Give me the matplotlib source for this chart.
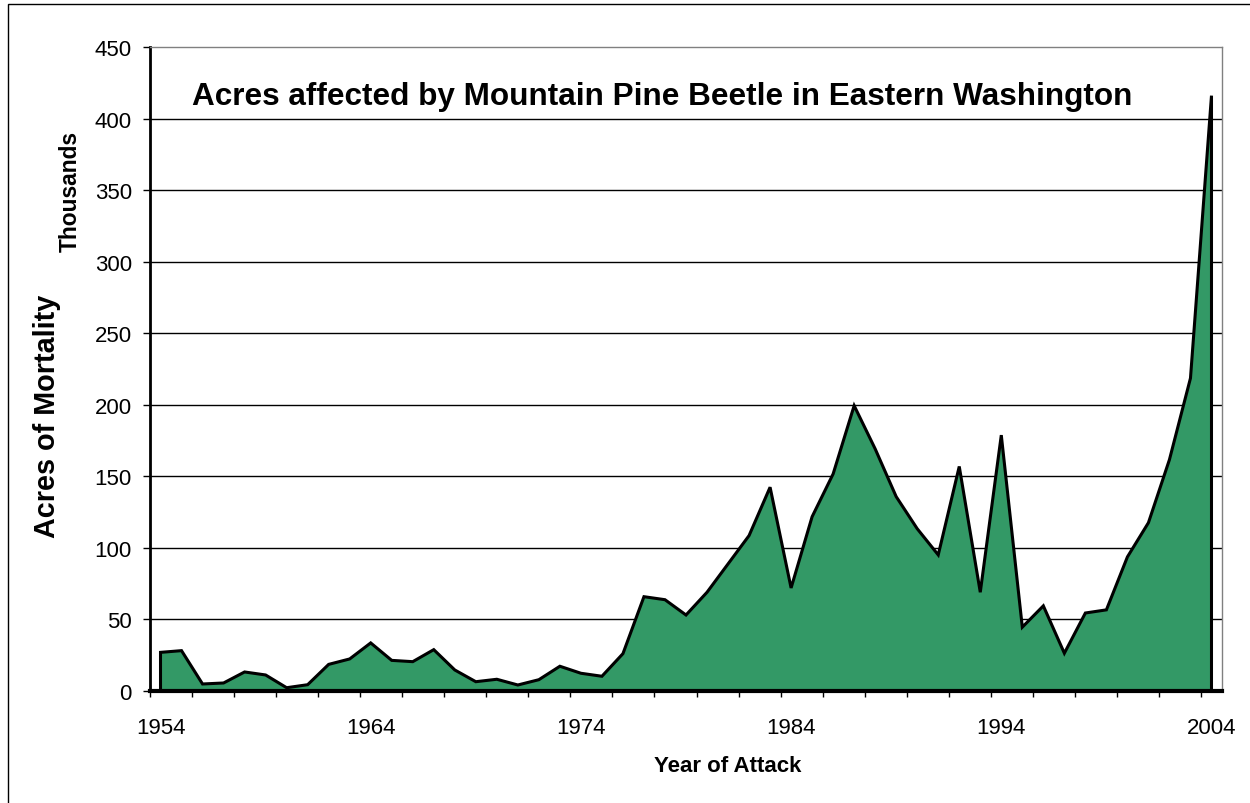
import matplotlib.pyplot as plt
from matplotlib.patches import Rectangle
from matplotlib.ticker import FixedLocator

plt.rcParams['font.family'] = ['Liberation Sans', 'DejaVu Sans']

# Acres of mortality (thousands) per year of attack
years = list(range(1954, 2005))
acres = [27.0, 28.2, 4.9, 5.6, 13.3, 11.2, 2.3, 4.4, 18.6, 22.4,
         33.6, 21.4, 20.5, 28.9, 14.7, 6.5, 8.2, 4.2, 7.9, 17.3,
         12.4, 10.3, 26.1, 65.9, 63.8, 53.1, 69.0, 88.8, 108.6, 142.4,
         72.0, 121.8, 151.7, 199.4, 169.2, 135.8, 113.4, 95.1, 156.9, 69.0,
         178.8, 44.6, 59.5, 26.4, 54.5, 56.7, 93.7, 117.6, 161.7, 218.6,
         416.0]
year_labels = ['1954', '1964', '1974', '1984', '1994', '2004']
y_ticks = list(range(0, 451, 50))

W, H = 1250, 804
fig = plt.figure(figsize=(W / 100, H / 100), dpi=100)
ax = fig.add_axes([150 / W, 1 - 692 / H, 1072 / W, 644 / H])

idx = list(range(len(years)))

# horizontal gridlines
for v in y_ticks[1:-1]:
    ax.axhline(v, color='black', lw=1.0, zorder=1)

# filled area, closed down to the axis
px = [idx[0]] + idx + [idx[-1]]
py = [0] + acres + [0]
ax.fill(px, py, facecolor='#339966', edgecolor='black', lw=2.2,
        joinstyle='miter', zorder=2)

ax.set_xlim(-0.5, len(years) - 0.5)
ax.set_ylim(0, 450)

# category labels every 10 years, tick marks every 2 categories
ax.xaxis.set_major_locator(FixedLocator([years.index(int(y)) for y in year_labels]))
ax.set_xticklabels(year_labels, fontsize=16)
ax.xaxis.set_minor_locator(FixedLocator([i - 0.5 for i in range(0, len(years), 2)]))
ax.tick_params(axis='x', which='major', length=0, pad=19)
ax.tick_params(axis='x', which='minor', direction='inout', length=9, width=1)

ax.set_yticks(y_ticks)
ax.set_yticklabels([str(v) for v in y_ticks], fontsize=16)
ax.tick_params(axis='y', direction='out', length=5, width=1, pad=8)

for side in ['top', 'right']:
    ax.spines[side].set_color('#808080')
    ax.spines[side].set_linewidth(1.0)
ax.spines['left'].set_linewidth(2.0)
ax.spines['bottom'].set_linewidth(3.0)
ax.spines['bottom'].set_zorder(3)

# axis titles
fig.text(728 / W, 1 - 767 / H, 'Year of Attack', fontsize=16,
         fontweight='bold', ha='center', va='center')
fig.text(47 / W, 1 - 416 / H, 'Acres of Mortality', rotation=90, fontsize=20.7,
         fontweight='bold', ha='center', va='center')
fig.text(70 / W, 1 - 191 / H, 'Thousands', rotation=90, fontsize=16.4,
         fontweight='bold', ha='center', va='center')

fig.text(192 / W, 1 - 97 / H,
         'Acres affected by Mountain Pine Beetle in Eastern Washington',
         fontsize=22.7, fontweight='bold', ha='left', va='center')

# chart frame
fig.patches.append(Rectangle((8 / W, -0.1), 1.2, 1 - 5 / H + 0.1,
                             transform=fig.transFigure, fill=False,
                             edgecolor='black', lw=1.0))

fig.savefig('out.png', dpi=100)
